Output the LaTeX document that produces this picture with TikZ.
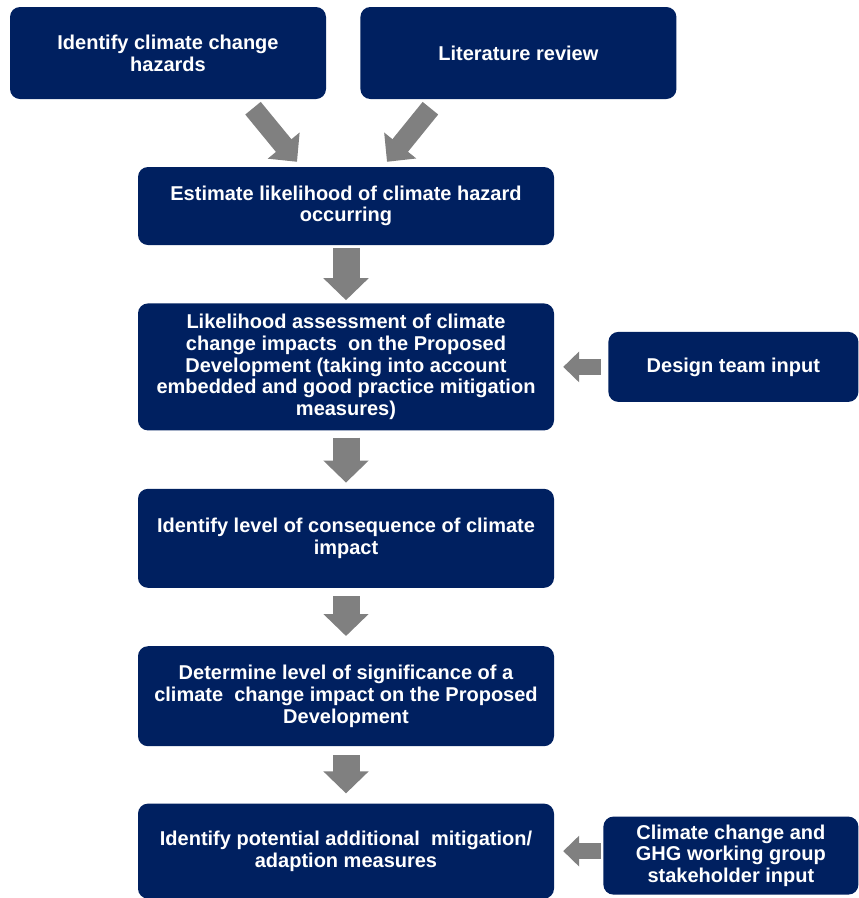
\documentclass[tikz,border=0pt]{standalone}
\usepackage{fontspec}
\setmainfont{Liberation Sans}
\usepackage{xcolor}
\usetikzlibrary{arrows.meta, calc, positioning}
\definecolor{NavyBox}{RGB}{0, 32, 96}
\definecolor{ArrowGrey}{RGB}{128, 128, 128}

\begin{document}
\begin{tikzpicture}[
        x=1pt, y=1pt,
        node distance = 58pt and 54pt,
        box/.style = {fill=NavyBox, text=white, font=\bfseries\fontsize{20}{21.7}\selectfont, align=center, inner sep=0pt, rounded corners=10pt},
        mainbox/.style = {box, minimum width=416pt},
        downarrow/.style = {draw=ArrowGrey, line width=27pt, -{Triangle[length=22pt, width=44pt]}},
        sidearrow/.style = {draw=ArrowGrey, line width=16pt, -{Triangle[length=16pt, width=30pt]}},
        diagarrow/.style = {draw=ArrowGrey, line width=20pt, -{Triangle[length=21pt, width=40pt]}}
    ]
        \useasboundingbox (0,0) rectangle (859,-898);

        % Inputs
        \node (hazards_node) [box, minimum width=316pt, minimum height=92pt] at (168,-53) {Identify climate change\\hazards};
        \node (review_node) [box, minimum width=316pt, minimum height=92pt, right=34pt of hazards_node] {Literature review};

        % Main chain
        \node (estimate_node) [mainbox, minimum height=78pt] at (346,-206) {Estimate likelihood of climate hazard\\occurring};
        \node (assess_node) [mainbox, minimum height=127pt, below=of estimate_node] {Likelihood assessment of climate\\change impacts~~on the Proposed\\Development (taking into account\\embedded and good practice mitigation\\measures)};
        \node (consequence_node) [mainbox, minimum height=99pt, below=of assess_node] {Identify level of consequence of climate\\impact};
        \node (significance_node) [mainbox, minimum height=100pt, below=of consequence_node] {Determine level of significance of a\\climate~~change impact on the Proposed\\Development};
        \node (mitigation_node) [mainbox, minimum height=95pt, below=57pt of significance_node] {Identify potential additional~~mitigation/\\adaption measures};

        % Side inputs
        \node (design_node) [box, minimum width=250pt, minimum height=70pt, right=of assess_node] {Design team input};
        \node (stakeholder_node) [box, minimum width=255pt, minimum height=78pt, right=49pt of mitigation_node, yshift=-4.5pt] {Climate change and\\GHG working group\\stakeholder input};

        % Arrows into the estimate
        \draw [diagarrow] ([xshift=85pt, yshift=-9pt]hazards_node.south) -- ([xshift=-49pt, yshift=5pt]estimate_node.north);
        \draw [diagarrow] ([xshift=-88pt, yshift=-9pt]review_node.south) -- ([xshift=41pt, yshift=5pt]estimate_node.north);

        % Arrows down the chain
        \draw [downarrow, shorten <=3pt, shorten >=3pt] (estimate_node.south) -- (assess_node.north);
        \draw [downarrow, shorten <=7pt, shorten >=6pt] (assess_node.south) -- (consequence_node.north);
        \draw [downarrow, shorten <=8pt, shorten >=10pt] (consequence_node.south) -- (significance_node.north);
        \draw [downarrow, shorten <=9pt, shorten >=10pt] (significance_node.south) -- (mitigation_node.north);

        % Arrows from the side inputs
        \draw [sidearrow, shorten <=7pt, shorten >=9pt] (design_node.west) -- (design_node.west -| assess_node.east);
        \draw [sidearrow, shorten <=2pt, shorten >=9pt] (stakeholder_node.west |- mitigation_node.east) -- (mitigation_node.east);

    \end{tikzpicture}
\end{document}
